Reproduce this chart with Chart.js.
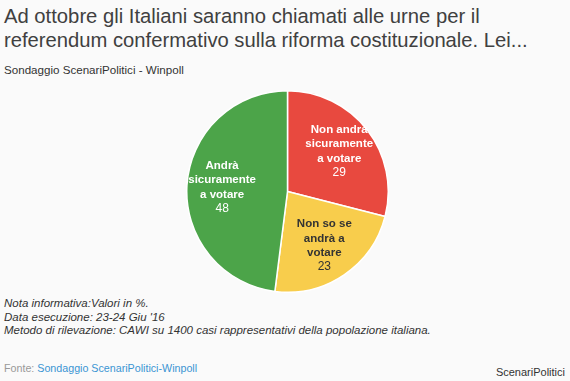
<!DOCTYPE html>
<html>
<head>
<meta charset="utf-8">
<script src="https://cdn.jsdelivr.net/npm/chart.js@4/dist/chart.umd.min.js"></script>
<style>
  html, body { margin:0; padding:0; }
  body { width:570px; height:381px; background:#fafafa; position:relative; overflow:hidden;
         font-family:"Liberation Sans", Arial, Helvetica, sans-serif; color:#333; }
  .t { position:absolute; white-space:nowrap; }
  #title { left:4px; top:4px; font-size:21px; line-height:24px; color:#404040; }
  #sub { left:4px; top:63px; font-size:11.6px; line-height:14px; color:#333; }
  #notes { left:4px; top:297px; font-size:11.5px; line-height:13.6px; font-style:italic; color:#333; }
  #fonte { left:4px; top:362px; font-size:10.7px; line-height:13.5px; color:#999; }
  #fonte span { color:#3b95d3; }
  #brand { right:5px; top:366px; font-size:11px; line-height:13.5px; color:#333; }
  #pieBox { position:absolute; left:186px; top:90px; width:203px; height:203px; }
</style>
</head>
<body>
<div class="t" id="title"><div data-w="476">Ad ottobre gli Italiani saranno chiamati alle urne per il</div><div data-w="524">referendum confermativo sulla riforma costituzionale. Lei...</div></div>
<div class="t" id="sub">Sondaggio ScenariPolitici - Winpoll</div>
<div class="t" id="notes"><div>Nota informativa:Valori in %.</div><div>Data esecuzione: 23-24 Giu '16</div><div>Metodo di rilevazione: CAWI su 1400 casi rappresentativi della popolazione italiana.</div></div>
<div class="t" id="fonte">Fonte: <span>Sondaggio ScenariPolitici-Winpoll</span></div>
<div class="t" id="brand">ScenariPolitici</div>
<div id="pieBox"><canvas id="c"></canvas></div>
<script>
// ---- data ----
const categoryLines = [
  ["Non andrà", "sicuramente", "a votare"],
  ["Non so se", "andrà a", "votare"],
  ["Andrà", "sicuramente", "a votare"]
];
const categories = categoryLines.map(l => l.join(" "));
const values = [29, 23, 48];
const sliceColors = ["#e8493f", "#f8cd4c", "#4ca449"];
const labelColors = ["#ffffff", "#333333", "#ffffff"];

const sliceLabels = {
  id: "sliceLabels",
  afterDatasetsDraw(chart) {
    const ctx = chart.ctx;
    const meta = chart.getDatasetMeta(0);
    meta.data.forEach((arc, i) => {
      const p = arc.getProps(["x","y","startAngle","endAngle","outerRadius"], true);
      const mid = (p.startAngle + p.endAngle) / 2;
      const r = p.outerRadius * 0.65;
      const cx = p.x + Math.cos(mid) * r;
      const cy = p.y + Math.sin(mid) * r;
      const lines = categoryLines[i];
      const lh = 14.3;
      const n = lines.length + 1;
      let y0 = cy - (n - 1) * lh / 2;
      ctx.save();
      ctx.textAlign = "center";
      ctx.textBaseline = "middle";
      ctx.fillStyle = labelColors[i];
      ctx.font = "bold 11.5px 'Liberation Sans', Arial, sans-serif";
      lines.forEach((t, k) => ctx.fillText(t, cx, y0 + k * lh));
      ctx.font = "12px 'Liberation Sans', Arial, sans-serif";
      ctx.fillText(String(values[i]), cx, y0 + lines.length * lh);
      ctx.restore();
    });
  }
};

new Chart(document.getElementById("c"), {
  type: "pie",
  data: {
    labels: categories,
    datasets: [{
      data: values,
      backgroundColor: sliceColors,
      borderColor: "#ffffff",
      borderWidth: 1.5
    }]
  },
  options: {
    responsive: true,
    maintainAspectRatio: false,
    animation: false,
    layout: { padding: 0 },
    plugins: { legend: { display: false }, tooltip: { enabled: false } }
  },
  plugins: [sliceLabels]
});

// fit title lines to reference widths
document.querySelectorAll("#title [data-w]").forEach(el => {
  el.style.display = "inline-block";
  const w = el.getBoundingClientRect().width;
  const target = +el.dataset.w;
  const fs = 21 * target / w;
  el.style.fontSize = fs.toFixed(2) + "px";
  el.style.display = "block";
});
</script>
</body>
</html>
